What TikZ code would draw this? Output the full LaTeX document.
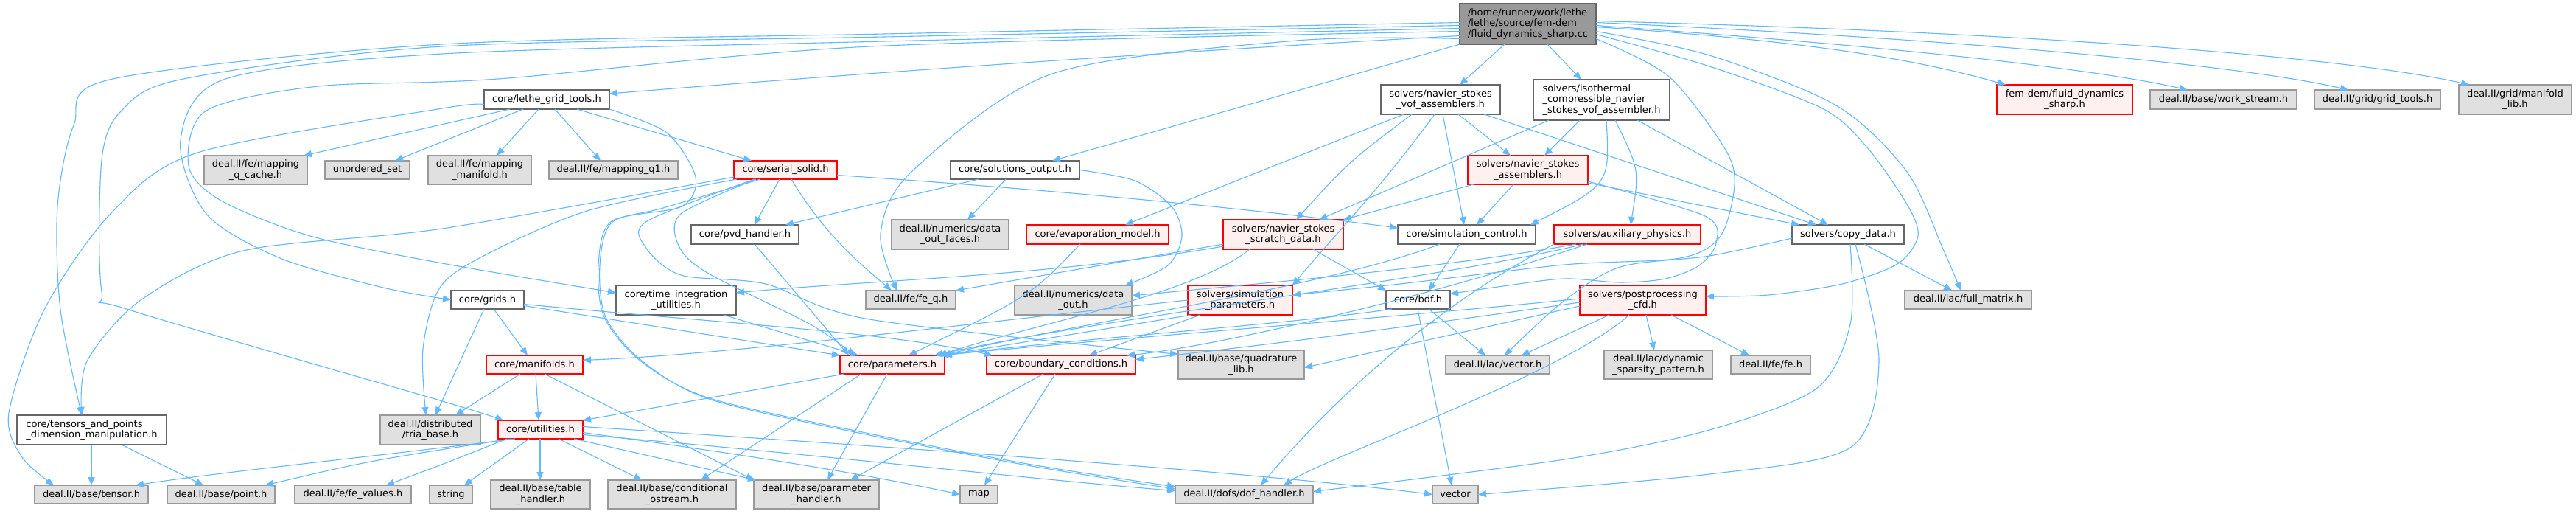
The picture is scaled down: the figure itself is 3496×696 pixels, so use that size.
\documentclass[tikz,border=0pt]{standalone}
\usepackage{fontspec}
\setmainfont{DejaVu Sans}
\usetikzlibrary{arrows.meta}
\definecolor{edgec}{HTML}{63B8FF}
\definecolor{rootfill}{HTML}{999999}
\definecolor{darkb}{HTML}{666666}
\definecolor{grayfill}{HTML}{E0E0E0}
\definecolor{grayb}{HTML}{999999}
\definecolor{redfill}{HTML}{FFF0F0}
\definecolor{redb}{HTML}{FF0000}
\newcommand\mynode[7]{%
  \pgfmathsetmacro\ndw{#4-#2}\pgfmathsetmacro\ndh{#5-#3}%
  \node[#6,minimum width=\ndw pt,minimum height=\ndh pt] (#1) at ({(#2+#4)/2},{-(#3+#5)/2}) {#7};}
\begin{document}
\begin{tikzpicture}[x=1pt,y=1pt,
  box/.style={draw,rectangle,inner sep=0pt,outer sep=0pt,line width=1.1pt,font=\fontsize{13}{14.3}\selectfont,align=center,text=black},
  rootn/.style={box,fill=rootfill,draw=darkb,align=left},
  wn/.style={box,fill=white,draw=darkb},
  wl/.style={box,fill=white,draw=darkb,align=left},
  gn/.style={box,fill=grayfill,draw=grayb},
  rn/.style={box,fill=redfill,draw=redb},
  e/.style={draw=edgec,line width=1.1pt,-{Triangle[length=11pt,width=9pt]}},
]
\fill[white] (0,0) rectangle (3496,-696);
\useasboundingbox (0,0) rectangle (3496,-696);
% nodes
\mynode{R}{1981}{5}{2166}{60}{rootn}{/home/runner/work/lethe\\/lethe/source/fem-dem\\/fluid\_dynamics\_sharp.cc}
\mynode{LGT}{657}{122}{827}{148}{wn}{core/lethe\_grid\_tools.h}
\mynode{VOF}{1874}{115}{2036}{155}{wn}{solvers/navier\_stokes\\\_vof\_assemblers.h}
\mynode{ISO}{2081}{108}{2266}{163}{wl}{solvers/isothermal\\\_compressible\_navier\\\_stokes\_vof\_assembler.h}
\mynode{FDS}{2710}{115}{2894}{155}{rn}{fem-dem/fluid\_dynamics\\\_sharp.h}
\mynode{WS}{2918}{122}{3117}{148}{gn}{deal.II/base/work\_stream.h}
\mynode{GT}{3141}{122}{3312}{148}{gn}{deal.II/grid/grid\_tools.h}
\mynode{ML}{3337}{115}{3490}{155}{gn}{deal.II/grid/manifold\\\_lib.h}
\mynode{MQC}{277}{211}{417}{250}{gn}{deal.II/fe/mapping\\\_q\_cache.h}
\mynode{US}{441}{218}{556}{243}{gn}{unordered\_set}
\mynode{MM}{581}{211}{721}{250}{gn}{deal.II/fe/mapping\\\_manifold.h}
\mynode{MQ1}{745}{218}{920}{243}{gn}{deal.II/fe/mapping\_q1.h}
\mynode{SS}{996}{218}{1136}{243}{rn}{core/serial\_solid.h}
\mynode{SO}{1290}{218}{1465}{243}{wn}{core/solutions\_output.h}
\mynode{NSA}{1992}{211}{2155}{250}{rn}{solvers/navier\_stokes\\\_assemblers.h}
\mynode{PVD}{938}{305}{1084}{331}{wn}{core/pvd\_handler.h}
\mynode{DOFc}{1210}{298}{1369}{338}{gn}{deal.II/numerics/data\\\_out\_faces.h}
\mynode{EVAP}{1393}{305}{1586}{331}{rn}{core/evaporation\_model.h}
\mynode{SCR}{1660}{298}{1823}{338}{rn}{solvers/navier\_stokes\\\_scratch\_data.h}
\mynode{SC}{1897}{305}{2084}{331}{wn}{core/simulation\_control.h}
\mynode{AUX}{2109}{305}{2308}{331}{rn}{solvers/auxiliary\_physics.h}
\mynode{CD}{2432}{305}{2584}{331}{wn}{solvers/copy\_data.h}
\mynode{GR}{612}{394}{711}{419}{wn}{core/grids.h}
\mynode{TIU}{836}{387}{999}{427}{wn}{core/time\_integration\\\_utilities.h}
\mynode{FEQ}{1175}{394}{1297}{419}{gn}{deal.II/fe/fe\_q.h}
\mynode{DO}{1377}{387}{1536}{427}{gn}{deal.II/numerics/data\\\_out.h}
\mynode{SP}{1612}{387}{1754}{427}{rn}{solvers/simulation\\\_parameters.h}
\mynode{BDF}{1881}{394}{1968}{419}{wn}{core/bdf.h}
\mynode{PP}{2144}{387}{2315}{427}{rn}{solvers/postprocessing\\\_cfd.h}
\mynode{FM}{2585}{394}{2757}{419}{gn}{deal.II/lac/full\_matrix.h}
\mynode{MAN}{660}{482}{791}{507}{rn}{core/manifolds.h}
\mynode{PAR}{1140}{482}{1282}{507}{rn}{core/parameters.h}
\mynode{BC}{1339}{482}{1541}{507}{rn}{core/boundary\_conditions.h}
\mynode{QL}{1599}{475}{1770}{514}{gn}{deal.II/base/quadrature\\\_lib.h}
\mynode{VEC}{1962}{482}{2103}{507}{gn}{deal.II/lac/vector.h}
\mynode{DSP}{2177}{475}{2324}{514}{gn}{deal.II/lac/dynamic\\\_sparsity\_pattern.h}
\mynode{FE}{2349}{482}{2457}{507}{gn}{deal.II/fe/fe.h}
\mynode{TP}{23}{563}{226}{603}{wl}{core/tensors\_and\_points\\\_dimension\_manipulation.h}
\mynode{TB}{516}{563}{652}{603}{gn}{deal.II/distributed\\/tria\_base.h}
\mynode{UT}{676}{570}{791}{595}{rn}{core/utilities.h}
\mynode{TEN}{47}{658}{201}{683}{gn}{deal.II/base/tensor.h}
\mynode{PT}{227}{658}{373}{683}{gn}{deal.II/base/point.h}
\mynode{FEV}{400}{658}{558}{683}{gn}{deal.II/fe/fe\_values.h}
\mynode{STR}{583}{658}{641}{683}{gn}{string}
\mynode{TH}{666}{651}{801}{690}{gn}{deal.II/base/table\\\_handler.h}
\mynode{CO}{825}{651}{999}{690}{gn}{deal.II/base/conditional\\\_ostream.h}
\mynode{PH}{1023}{651}{1193}{690}{gn}{deal.II/base/parameter\\\_handler.h}
\mynode{MAP}{1303}{658}{1354}{683}{gn}{map}
\mynode{DH}{1595}{658}{1782}{683}{gn}{deal.II/dofs/dof\_handler.h}
\mynode{VECT}{1944}{658}{2006}{683}{gn}{vector}
% root edges
\draw[e] (R.south west) -- ([xshift=138]SO.north west);
\draw[e] ([xshift=61]R.south west) -- ([xshift=107]VOF.north west);
\draw[e] ([xshift=119]R.south west) -- ([xshift=65]ISO.north west);
\draw[e] ([yshift=-16]R.west) .. controls (1500,-75) and (1100,-105) .. ([yshift=8]LGT.east);
\draw[e] plot[smooth,tension=0.5] coordinates {([yshift=2]R.west) (1200,-46) (600,-60) (153,-107) (100,-170) (78,-280) (82,-420) ([xshift=88]TP.north west)};
\draw[e] plot[smooth,tension=0.5] coordinates {([yshift=-2]R.west) (1200,-50) (600,-63) (249,-107) (165,-150) (138,-217) (138,-395) (175,-420) (597,-543) ([xshift=7]UT.north west)};
\draw[e] plot[smooth,tension=0.5] coordinates {([yshift=-6]R.west) (1200,-56) (600,-73) (306,-107) (245,-190) (280,-290) (380,-350) (520,-390) (GR.west)};
\draw[e] plot[smooth,tension=0.5] coordinates {([yshift=-10]R.west) (1180,-63) (676,-107) (432,-117) (280,-150) (256,-225) (300,-272) (421,-320) (600,-357) ([yshift=10]TIU.west)};
\draw[e] plot[smooth,tension=0.5] coordinates {([yshift=-20]R.west) (1760,-55) (1428,-100) (1237,-233) (1195,-317) ([xshift=42]FEQ.north west)};
\draw[e] ([yshift=-4]R.east) .. controls (2450,-55) and (2600,-80) .. ([xshift=12]FDS.north west);
\draw[e] ([yshift=-2]R.east) .. controls (2600,-65) and (2850,-95) .. ([xshift=51]WS.north west);
\draw[e] ([yshift=2]R.east) .. controls (2700,-55) and (3050,-90) .. ([xshift=46]GT.north west);
\draw[e] ([yshift=4]R.east) .. controls (2800,-45) and (3200,-80) .. ([xshift=14]ML.north west);
\draw[e] plot[smooth,tension=0.5] coordinates {([yshift=-10]R.east) (2320,-75) (2492,-143) (2588,-233) (2638,-340) ([xshift=76]FM.north west)};
\draw[e] plot[smooth,tension=0.5] coordinates {([yshift=-14]R.east) (2320,-90) (2473,-147) (2534,-200) (2588,-277) (2603,-320) (2575,-358) (2500,-385) (2400,-400) ([yshift=5]PP.east)};
\draw[e] plot[smooth,tension=0.5] coordinates {([yshift=-20]R.east) (2264,-103) (2340,-200) (2354,-250) (2335,-320) (2280,-350) (2123,-359) (1900,-385) ([yshift=7]SP.east)};
% lethe_grid_tools
\draw[e] ([xshift=35]LGT.south west) -- ([xshift=-5]MQC.north east);
\draw[e] ([xshift=53]LGT.south west) -- ([xshift=-20]US.north east);
\draw[e] ([xshift=74]LGT.south west) -- ([xshift=93]MM.north west);
\draw[e] ([xshift=96]LGT.south west) -- ([xshift=70]MQ1.north west);
\draw[e] ([xshift=126]LGT.south west) -- ([xshift=24]SS.north west);
\draw[e] plot[smooth,tension=0.5] coordinates {([yshift=-7]LGT.west) (600,-147) (268,-207) (150,-290) (60,-420) (12,-560) (30,-620) ([xshift=26]TEN.north west)};
\draw[e] plot[smooth,tension=0.5] coordinates {(LGT.south east) (905,-180) (944,-240) (925,-280) (830,-300) (812,-360) (820,-430) (870,-490) (963,-540) (1180,-588) (1400,-630) ([yshift=-2]DH.north west)};
% serial_solid
\draw[e] plot[smooth,tension=0.5] coordinates {([yshift=3]SS.south west) (600,-310) (330,-340) (191,-407) (118,-490) ([xshift=88]TP.north west)};
\draw[e] plot[smooth,tension=0.5] coordinates {([xshift=4]SS.south west) (800,-285) (660,-345) (597,-390) (574,-473) ([xshift=62]TB.north west)};
\draw[e] ([xshift=62]SS.south west) -- ([xshift=86]PVD.north west);
\draw[e] ([yshift=-7]SS.east) .. controls (1500,-262) and (1750,-290) .. ([yshift=9]SC.west);
\draw[e] ([xshift=78]SS.south west) .. controls (1120,-320) and (1170,-360) .. ([xshift=35]FEQ.north west);
\draw[e] plot[smooth,tension=0.5] coordinates {([xshift=28]SS.south west) (878,-300) (876,-335) (924,-373) (1039,-385) (1180,-433) ([yshift=14]QL.west)};
\draw[e] plot[smooth,tension=0.5] coordinates {([xshift=30]SS.south west) (924,-290) (921,-333) (960,-370) (1100,-440) ([xshift=20]PAR.north west)};
\draw[e] plot[smooth,tension=0.5] coordinates {([xshift=36]SS.south west) (900,-282) (830,-302) (814,-360) (822,-430) (872,-490) (965,-542) (1180,-590) (1400,-632) ([yshift=-5]DH.north west)};
% solutions_output
\draw[e] ([xshift=38]SO.south west) -- ([xshift=-18]PVD.north east);
\draw[e] ([xshift=75]SO.south west) -- ([xshift=103]DOFc.north west);
\draw[e] plot[smooth,tension=0.5] coordinates {(SO.east) (1540,-245) (1590,-280) (1604,-320) (1585,-360) ([xshift=-9]DO.north east)};
% vof assemblers
\draw[e] ([xshift=105]VOF.south west) -- ([xshift=58]NSA.north west);
\draw[e] ([xshift=42]VOF.south west) .. controls (1830,-220) .. ([xshift=99]SCR.north west);
\draw[e] ([xshift=84]VOF.south west) -- ([xshift=90]SC.north west);
\draw[e] ([xshift=31]VOF.south west) -- ([xshift=134]EVAP.north west);
\draw[e] ([xshift=140]VOF.south west) -- ([xshift=33]CD.north west);
\draw[e] ([xshift=73]VOF.south west) .. controls (1870,-260) and (1810,-320) .. (SP.north east);
% isothermal
\draw[e] ([xshift=63]ISO.south west) -- ([xshift=104]NSA.north west);
\draw[e] ([xshift=21]ISO.south west) -- ([xshift=130]SCR.north west);
\draw[e] ([xshift=99]ISO.south west) .. controls (2185,-250) .. ([xshift=-7]SC.north east);
\draw[e] ([xshift=111]ISO.south west) .. controls (2225,-230) .. ([xshift=104]AUX.north west);
\draw[e] ([xshift=141]ISO.south west) -- ([xshift=49]CD.north west);
% ns assemblers
\draw[e] ([xshift=8]NSA.south west) -- (SCR.north east);
\draw[e] ([xshift=62]NSA.south west) -- ([xshift=107]SC.north west);
\draw[e] ([yshift=2]NSA.south east) -- ([xshift=10]CD.north west);
\draw[e] plot[smooth,tension=0.5] coordinates {([yshift=4]NSA.south east) (2314,-293) (2329,-330) (2306,-360) (2260,-378) (2199,-383) (2123,-378) (2040,-388) ([yshift=8]BDF.east)};
% simulation control
\draw[e] ([xshift=84]SC.south west) -- ([xshift=58]BDF.north west);
\draw[e] ([xshift=57]SC.south west) .. controls (1800,-390) and (1450,-440) .. ([xshift=-3]PAR.north east);
% scratch data
\draw[e] ([yshift=7]SCR.south west) -- (FEQ.north east);
\draw[e] ([yshift=4]SCR.south west) .. controls (1420,-375) and (1180,-380) .. ([yshift=10]TIU.east);
\draw[e] ([xshift=36]SCR.south west) .. controls (1620,-400) and (1400,-440) .. ([xshift=-8]PAR.north east);
\draw[e] ([xshift=122]SCR.south west) -- (BDF.north west);
% auxiliary physics
\draw[e] ([xshift=30]AUX.south west) .. controls (1950,-365) and (1700,-385) .. ([yshift=6]DO.east);
\draw[e] ([xshift=40]AUX.south west) .. controls (1950,-380) and (1500,-430) .. ([xshift=-14]PAR.north east);
\draw[e] ([xshift=45]AUX.south west) .. controls (1950,-400) and (1650,-470) .. ([xshift=-12]BC.north east);
\draw[e] (AUX.south west) .. controls (1900,-440) and (1760,-600) .. ([xshift=116]DH.north west);
% copy data
\draw[e] ([xshift=98]CD.south west) -- ([xshift=64]FM.north west);
\draw[e] plot[smooth,tension=0.5] coordinates {([xshift=79]CD.south west) (2511,-440) (2465,-527) (2320,-583) (2123,-623) ([yshift=4]DH.east)};
\draw[e] plot[smooth,tension=0.5] coordinates {([xshift=86]CD.south west) (2550,-490) (2511,-607) (2320,-643) (VECT.east)};
\draw[e] plot[smooth,tension=0.5] coordinates {([yshift=8]CD.south west) (2320,-347) (2199,-362) (2120,-410) ([xshift=80]VEC.north west)};
% grids
\draw[e] ([xshift=45]GR.south west) -- ([xshift=75]TB.north west);
\draw[e] ([xshift=58]GR.south west) -- ([xshift=56]MAN.north west);
\draw[e] ([yshift=-8]GR.east) -- (PAR.north west);
\draw[e] ([yshift=-6]GR.east) .. controls (1000,-440) and (1200,-450) .. ([xshift=8]BC.north west);
% misc to parameters
\draw[e] ([xshift=146]TIU.south west) -- ([xshift=25]PAR.north west);
\draw[e] ([xshift=86]PVD.south west) -- ([xshift=12]PAR.north west);
\draw[e] ([xshift=73]EVAP.south west) .. controls (1400,-400) .. ([xshift=93]PAR.north west);
% simulation parameters
\draw[e] (SP.west) .. controls (1300,-440) and (1000,-480) .. ([yshift=6]MAN.east);
\draw[e] ([xshift=5]SP.south west) -- ([xshift=-3]PAR.north east);
\draw[e] ([xshift=17]SP.south west) -- ([xshift=139]BC.north west);
% bdf
\draw[e] ([xshift=8]BDF.south west) .. controls (1750,-440) and (1450,-460) .. ([xshift=-1]PAR.north east);
\draw[e] ([xshift=58]BDF.south west) -- ([xshift=54]VEC.north west);
\draw[e] ([xshift=43]BDF.south west) -- ([xshift=26]VECT.north west);
% postprocessing
\draw[e] ([yshift=-8]PP.west) -- ([yshift=-4]QL.east);
\draw[e] ([xshift=40]PP.south west) -- ([xshift=103]VEC.north west);
\draw[e] ([xshift=90]PP.south west) -- ([xshift=68]DSP.north west);
\draw[e] ([xshift=124]PP.south west) -- ([xshift=25]FE.north west);
\draw[e] ([xshift=67]PP.south west) .. controls (2123,-507) and (1800,-620) .. ([xshift=147]DH.north west);
\draw[e] ([yshift=2]PP.west) .. controls (1900,-430) and (1500,-460) .. ([xshift=-6]PAR.north east);
\draw[e] ([yshift=-3]PP.west) .. controls (1900,-445) and (1700,-470) .. ([yshift=7]BC.east);
% manifolds
\draw[e] ([xshift=46]MAN.south west) -- ([xshift=102]TB.north west);
\draw[e] ([xshift=67]MAN.south west) -- ([xshift=55]UT.north west);
\draw[e] ([xshift=79]MAN.south west) -- (PH.north west);
% parameters
\draw[e] ([xshift=6]PAR.south west) -- (UT.north east);
\draw[e] ([xshift=29]PAR.south west) -- ([xshift=126]CO.north west);
\draw[e] ([xshift=64]PAR.south west) -- ([xshift=100]PH.north west);
% boundary conditions
\draw[e] ([xshift=77]BC.south west) -- ([xshift=131]PH.north west);
\draw[e] ([xshift=93]BC.south west) -- ([xshift=33]MAP.north west);
% utilities
\draw[e] ([xshift=23]UT.south west) .. controls (500,-620) and (300,-640) .. ([xshift=-17]TEN.north east);
\draw[e] ([xshift=18]UT.south west) .. controls (500,-625) .. ([xshift=133]PT.north west);
\draw[e] ([xshift=12]UT.south west) .. controls (600,-630) .. ([xshift=124]FEV.north west);
\draw[e] ([xshift=42]UT.south west) -- ([xshift=47]STR.north west);
\draw[e] ([xshift=57]UT.south west) -- ([xshift=67]TH.north west);
\draw[e] ([xshift=82]UT.south west) -- ([xshift=46]CO.north west);
\draw[e] ([xshift=103]UT.south west) -- ([xshift=3]PH.north west);
\draw[e] ([yshift=-4]UT.east) .. controls (1000,-615) and (1160,-640) .. (MAP.west);
\draw[e] ([yshift=-7]UT.east) .. controls (1100,-615) and (1400,-650) .. ([yshift=5]DH.west);
\draw[e] ([yshift=4]UT.east) .. controls (1200,-605) and (1700,-640) .. (VECT.west);
% tensors and points
\draw[e] ([xshift=101]TP.south west) -- ([xshift=77]TEN.north west);
\draw[e] ([xshift=142]TP.south west) -- ([xshift=49]PT.north west);
\end{tikzpicture}
\end{document}
